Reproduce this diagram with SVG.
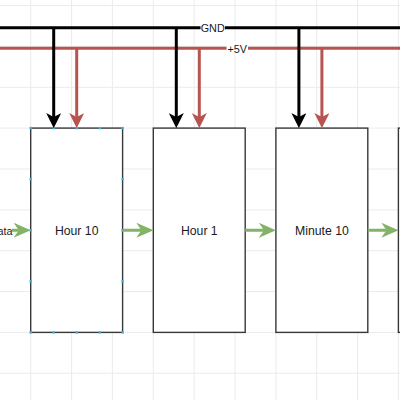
<svg xmlns="http://www.w3.org/2000/svg" width="400" height="400" viewBox="0 0 400 400">
<style>
.grid line{stroke:#ebebeb;stroke-width:1}
.box{fill:#ffffff;stroke:#383838;stroke-width:1.4}
.lbl{font-family:"Liberation Sans",Arial,sans-serif;font-size:12.25px;fill:#1a1a1a;text-anchor:middle;dominant-baseline:central}
.elbl{font-family:"Liberation Sans",Arial,sans-serif;font-size:10.8px;fill:#1a1a1a;dominant-baseline:central}
.gnd{stroke:#000000;stroke-width:3;fill:none}
.v5{stroke:#b85450;stroke-width:3;fill:none}
.dat{stroke:#82b366;stroke-width:3;fill:none}
.pt{fill:#3fb0e8}
</style>
<defs>
<marker id="mBlack" markerUnits="userSpaceOnUse" viewBox="0 0 15 15" markerWidth="15" markerHeight="15" refX="4" refY="7.5" orient="auto"><path d="M0,0 L15,7.5 L0,15 L4,7.5 Z" fill="#000000"/></marker>
<marker id="mRed" markerUnits="userSpaceOnUse" viewBox="0 0 15 15" markerWidth="15" markerHeight="15" refX="4" refY="7.5" orient="auto"><path d="M0,0 L15,7.5 L0,15 L4,7.5 Z" fill="#b85450"/></marker>
<marker id="mGreen" markerUnits="userSpaceOnUse" viewBox="0 0 17 15" markerWidth="17" markerHeight="15" refX="5" refY="7.5" orient="auto"><path d="M0,0 L17,7.5 L0,15 L5,7.5 Z" fill="#82b366"/></marker>
</defs>
<rect width="400" height="400" fill="#ffffff"/>
<g class="grid">
<line x1="30.7" y1="0" x2="30.7" y2="400"/>
<line x1="71.6" y1="0" x2="71.6" y2="400"/>
<line x1="112.4" y1="0" x2="112.4" y2="400"/>
<line x1="153.3" y1="0" x2="153.3" y2="400"/>
<line x1="194.1" y1="0" x2="194.1" y2="400"/>
<line x1="235" y1="0" x2="235" y2="400"/>
<line x1="275.9" y1="0" x2="275.9" y2="400"/>
<line x1="316.7" y1="0" x2="316.7" y2="400"/>
<line x1="357.6" y1="0" x2="357.6" y2="400"/>
<line x1="398.4" y1="0" x2="398.4" y2="400"/>
<line x1="0" y1="5.6" x2="400" y2="5.6"/>
<line x1="0" y1="46.4" x2="400" y2="46.4"/>
<line x1="0" y1="87.3" x2="400" y2="87.3"/>
<line x1="0" y1="128.1" x2="400" y2="128.1"/>
<line x1="0" y1="169" x2="400" y2="169"/>
<line x1="0" y1="209.9" x2="400" y2="209.9"/>
<line x1="0" y1="250.7" x2="400" y2="250.7"/>
<line x1="0" y1="291.6" x2="400" y2="291.6"/>
<line x1="0" y1="332.4" x2="400" y2="332.4"/>
<line x1="0" y1="373.3" x2="400" y2="373.3"/>
</g>
<g id="hour10">
<rect class="box" x="30.7" y="128.1" width="91.9" height="204.3"/>
<text class="lbl" x="76.7" y="230.5">Hour 10</text>
<g class="pt">
<rect x="29.5" y="126.9" width="2.4" height="2.4"/><rect x="52.5" y="126.9" width="2.4" height="2.4"/><rect x="75.5" y="126.9" width="2.4" height="2.4"/><rect x="98.5" y="126.9" width="2.4" height="2.4"/><rect x="121.4" y="126.9" width="2.4" height="2.4"/>
<rect x="29.5" y="331.2" width="2.4" height="2.4"/><rect x="52.5" y="331.2" width="2.4" height="2.4"/><rect x="75.5" y="331.2" width="2.4" height="2.4"/><rect x="98.5" y="331.2" width="2.4" height="2.4"/><rect x="121.4" y="331.2" width="2.4" height="2.4"/>
<rect x="29.5" y="178" width="2.4" height="2.4"/><rect x="29.5" y="229.1" width="2.4" height="2.4"/><rect x="29.5" y="280.1" width="2.4" height="2.4"/>
<rect x="121.4" y="178" width="2.4" height="2.4"/><rect x="121.4" y="229.1" width="2.4" height="2.4"/><rect x="121.4" y="280.1" width="2.4" height="2.4"/>
</g>
</g>
<g id="hour1">
<rect class="box" x="153.3" y="128.1" width="91.9" height="204.3"/>
<text class="lbl" x="199.3" y="230.5">Hour 1</text>
</g>
<g id="minute10">
<rect class="box" x="275.9" y="128.1" width="91.9" height="204.3"/>
<text class="lbl" x="321.9" y="230.5">Minute 10</text>
</g>
<g id="minute1">
<rect class="box" x="398.4" y="128.1" width="91.9" height="204.3"/>
</g>
<g id="connectors">
<line class="gnd" x1="0" y1="27.7" x2="400" y2="27.7"/>
<line class="v5" x1="0" y1="48.3" x2="400" y2="48.3"/>
<line class="gnd" x1="53.7" y1="27.7" x2="53.7" y2="117.1" marker-end="url(#mBlack)"/>
<line class="gnd" x1="176.3" y1="27.7" x2="176.3" y2="117.1" marker-end="url(#mBlack)"/>
<line class="gnd" x1="298.9" y1="27.7" x2="298.9" y2="117.1" marker-end="url(#mBlack)"/>
<line class="v5" x1="76.7" y1="48.3" x2="76.7" y2="117.1" marker-end="url(#mRed)"/>
<line class="v5" x1="199.3" y1="48.3" x2="199.3" y2="117.1" marker-end="url(#mRed)"/>
<line class="v5" x1="321.9" y1="48.3" x2="321.9" y2="117.1" marker-end="url(#mRed)"/>
<rect x="200.5" y="21" width="24.5" height="14" fill="#ffffff"/>
<text class="elbl" x="212.7" y="28" text-anchor="middle">GND</text>
<rect x="226.5" y="41.5" width="21.5" height="14" fill="#ffffff"/>
<text class="elbl" x="237.3" y="48.5" text-anchor="middle">+5V</text>
<line class="dat" x1="12" y1="230.25" x2="18.7" y2="230.25" marker-end="url(#mGreen)"/>
<text class="elbl" x="12.5" y="230.7" text-anchor="end">Data</text>
<line class="dat" x1="122.6" y1="230.25" x2="141.3" y2="230.25" marker-end="url(#mGreen)"/>
<line class="dat" x1="245.2" y1="230.25" x2="263.9" y2="230.25" marker-end="url(#mGreen)"/>
<line class="dat" x1="367.8" y1="230.25" x2="386.4" y2="230.25" marker-end="url(#mGreen)"/>
</g>
</svg>
